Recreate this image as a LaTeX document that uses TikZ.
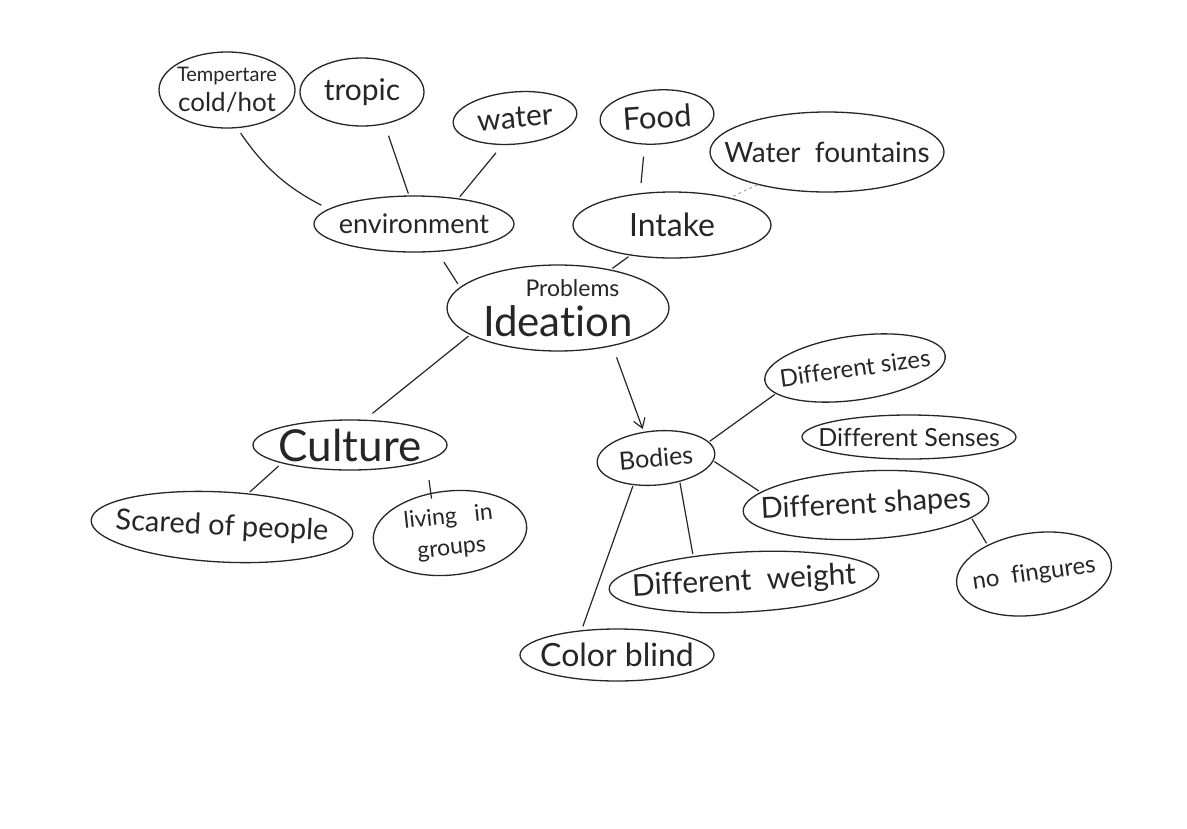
\documentclass[tikz,border=0pt]{standalone}
\usepackage{fontspec}
\setmainfont{Lato}[Ligatures=NoCommon]
\usetikzlibrary{shapes.geometric,arrows.meta}
\tikzset{
  bubble/.style={ellipse, draw=black!85, line width=1.3pt, inner sep=0pt},
  txt/.style={align=center, text=black!85, inner sep=0pt},
  link/.style={draw=black!85, line width=1.2pt, shorten <=4pt, shorten >=4pt},
  faint/.style={draw=black!35, line width=1pt, dashed},
}
\newcommand{\fs}[1]{\fontsize{#1}{#1}\selectfont}
% \bub{name}{centre}{width}{height}{rotation}{text}
\newcommand{\bub}[6]{%
  \node[bubble, minimum width=#3pt, minimum height=#4pt, rotate=#5] (#1) at (#2) {};
  \node[txt, rotate=#5] at (#1.center) {#6};}
\begin{document}
\begin{tikzpicture}[x=1pt,y=-1pt]
  \fill[white] (0,0) rectangle (1187,828);
  \useasboundingbox (0,0) rectangle (1187,828);

  % environment branch
  \bub{temp}{227,90}{136}{76}{0}{\fs{20}Tempertare\\[6pt]\fs{26}cold/hot}
  \bub{tropic}{362,92}{124}{68}{0}{\fs{30}tropic}
  \bub{water}{515,118}{124}{52}{5}{\fs{30}water}
  \bub{env}{414,224}{200}{56}{0}{\fs{27}environment}

  % intake branch
  \bub{food}{657,117}{114}{54}{4}{\fs{31}Food}
  \bub{fount}{827,152}{234}{80}{0}{\fs{28}Water\ \ fountains}
  \bub{intake}{672,225}{198}{66}{0}{\fs{32}Intake}

  % centre
  \bub{idea}{558,308}{222}{86}{0}{\fs{23}\quad\ Problems\\[8pt]\fs{42}Ideation}

  % culture branch
  \bub{cult}{350,445}{194}{50}{0}{\fs{44}Culture}
  \bub{scared}{222,527}{262}{70}{-3}{\fs{29}Scared of people}
  \bub{groups}{450,533}{154}{84}{6}{\fs{23}living\ \ \ in\\[14pt]\fs{23}groups}

  % bodies branch
  \bub{bodies}{656,458}{118}{54}{5}{\fs{25}Bodies}
  \bub{sizes}{855,368}{182}{64}{8}{\fs{24}Different sizes}
  \bub{senses}{909,437}{214}{44}{0}{\fs{25}Different Senses}
  \bub{shapes}{866,505}{246}{68}{3}{\fs{29}Different shapes}
  \bub{fingers}{1034,574}{156}{82}{8}{\fs{24}no\ \ fingures}
  \bub{weight}{744,582}{270}{60}{3}{\fs{30}Different\ \ weight}
  \bub{blind}{617,655}{194}{52}{0}{\fs{32}Color blind}

  % connectors
  \draw[link, shorten <=6pt, shorten >=8pt] (temp.-75) to[bend right=14] (env.170);
  \draw[link, shorten <=12pt, shorten >=2pt] (tropic.-55) -- (env.100);
  \draw[link, shorten <=10pt, shorten >=2pt] (water.-120) -- (env.30);
  \draw[link, shorten <=12pt, shorten >=10pt] (food.-118) -- (intake.135);
  \draw[faint] (fount) -- (intake);
  \draw[link, shorten <=2pt, shorten >=2pt] (intake) -- (idea);
  \draw[link, shorten <=12pt, shorten >=4pt] (env.-50) -- (idea.168);
  \draw[link, shorten <=2pt, shorten >=10pt] (idea.-163) -- (cult.60);
  \draw[link, -{Straight Barb[length=9pt,width=12pt]}, shorten <=12pt, shorten >=3pt] (idea.-35) -- (bodies.110);
  \draw[link, shorten <=4pt, shorten >=2pt] (cult.-165) -- (scared.55);
  \draw[link, shorten <=0pt, shorten >=0pt] ([xshift=10pt,yshift=-17pt]cult.south east) -- ([xshift=-14pt,yshift=-8pt]groups.north);
  \draw[link, shorten <=1pt, shorten >=1pt] (bodies.12) -- (sizes.190);
  \draw[link, shorten <=1pt, shorten >=2pt] (bodies.-8) -- (shapes.170);
  \draw[link, shorten <=1pt, shorten >=2pt] (bodies.-50) -- (weight.150);
  \draw[link, shorten <=1pt, shorten >=4pt] (bodies.-135) -- (blind.145);
  \draw[link, shorten <=1pt, shorten >=2pt] (shapes.-10) -- (fingers.140);
\end{tikzpicture}
\end{document}
